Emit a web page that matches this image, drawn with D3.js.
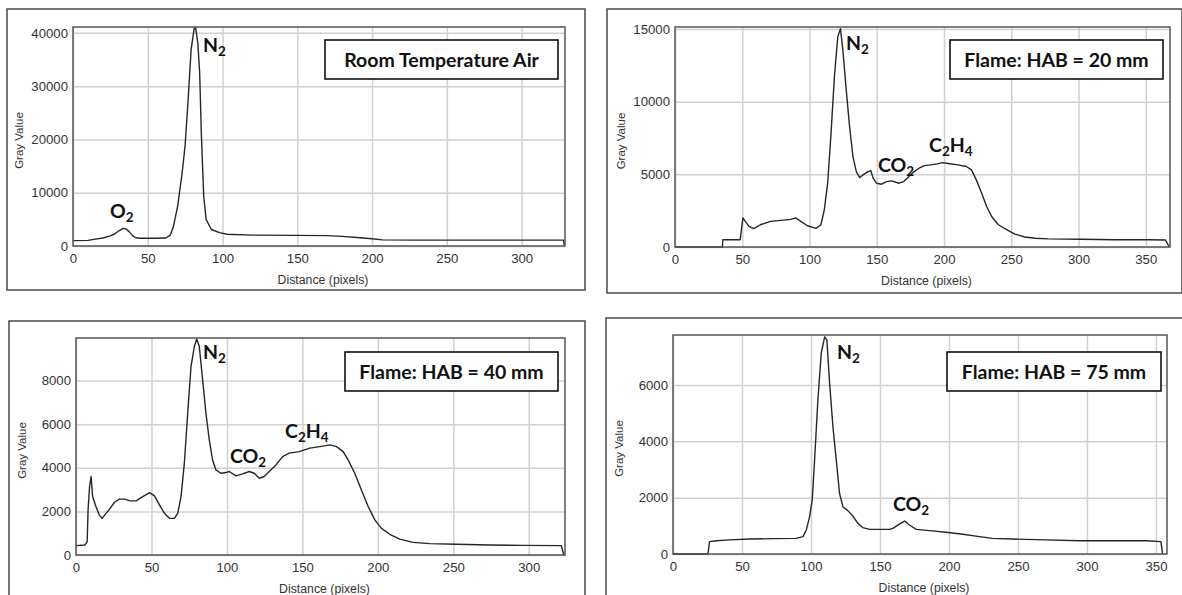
<!DOCTYPE html>
<html><head><meta charset="utf-8">
<script src="https://cdn.jsdelivr.net/npm/d3@7"></script>
<style>body{margin:0;background:#fff} svg{display:block}</style>
</head><body>
<svg id="c" width="1182" height="595"></svg>
<script>
// ---------- DATA ----------
const airDistance = [0, 10, 15, 20, 25, 28, 31, 33.5, 35.5, 37.5, 40, 42, 45, 55, 62, 65, 67, 70, 73, 75, 77, 79, 81, 82, 83.5, 84.7, 85.8, 87.4, 89, 92.5, 98, 103, 120, 150, 170, 180, 190, 200, 207, 230, 270, 300, 328, 328.6];
const airGray     = [1000, 1050, 1300, 1500, 1900, 2300, 2900, 3300, 3200, 2700, 1900, 1550, 1450, 1450, 1500, 2000, 3500, 7500, 13750, 19000, 27500, 36900, 40800, 41000, 38000, 32500, 21250, 9400, 5000, 3100, 2500, 2200, 2050, 2000, 1950, 1800, 1600, 1350, 1150, 1100, 1100, 1100, 1100, 0];

const hab20Distance = [0, 35.2, 35.6, 48.5, 49.5, 50.5, 52, 55, 58.5, 63.5, 71, 78.6, 86, 90, 93.5, 98.5, 104.7, 108.5, 111, 113.5, 116, 118.5, 121, 123, 124.8, 127.3, 129.8, 132.3, 134.8, 137.3, 139.8, 143.5, 145.5, 147.3, 149.8, 153.5, 157.2, 161, 166.5, 170, 174, 177.8, 181.5, 185.2, 190, 195, 199, 203, 210.4, 216.6, 220.4, 224, 228, 231.7, 235.4, 240.4, 246.5, 252.7, 260, 267.6, 277.5, 302, 327, 352, 364.6, 367.5];
const hab20Gray     = [0, 0, 500, 500, 1300, 2000, 1800, 1420, 1260, 1530, 1760, 1830, 1900, 2000, 1760, 1460, 1280, 1530, 2560, 4390, 7820, 11700, 14460, 15030, 13550, 10800, 8280, 6220, 5190, 4780, 4960, 5190, 5260, 4740, 4390, 4320, 4500, 4550, 4390, 4500, 4850, 5190, 5420, 5600, 5650, 5720, 5810, 5750, 5650, 5540, 5310, 4620, 3700, 2790, 2100, 1530, 1190, 890, 690, 600, 560, 530, 500, 500, 480, 0];

const hab40Distance = [0, 6, 7.4, 8, 9, 10, 11, 13.2, 15.4, 17.3, 19.9, 22.2, 25.5, 28.8, 32.1, 35.4, 39.8, 44.2, 48.7, 52, 55.3, 58.6, 61.9, 65.2, 67.4, 69.6, 71.8, 74, 76.2, 78.4, 80, 81.7, 83.9, 86.1, 88.3, 90.5, 92.7, 96, 99.3, 101.5, 106, 110.4, 114.8, 118.1, 121.4, 124.7, 128, 132.5, 136.9, 141.3, 148, 154.9, 161.5, 168.2, 172.6, 177, 180.3, 184.7, 189.1, 193.6, 198, 202.4, 207.9, 214.5, 223.4, 234.4, 252, 274, 296, 321.6, 323.2];
const hab40Gray     = [430, 460, 610, 2060, 3140, 3600, 2680, 2220, 1840, 1680, 1910, 2100, 2420, 2560, 2560, 2490, 2480, 2680, 2860, 2710, 2300, 1910, 1680, 1680, 1910, 2680, 4210, 6500, 8640, 9560, 9900, 9560, 8030, 6500, 5280, 4360, 3900, 3750, 3780, 3830, 3630, 3720, 3830, 3750, 3520, 3600, 3830, 4130, 4510, 4670, 4740, 4900, 4970, 5050, 4970, 4740, 4360, 3750, 2980, 2220, 1610, 1220, 950, 730, 580, 520, 490, 460, 440, 430, 0];

const hab75Distance = [0, 25.3, 26.5, 31.3, 41, 55.5, 72.4, 89.3, 94.2, 96.6, 99, 100.9, 102.6, 105, 107.4, 109.9, 111.5, 113.5, 115.9, 118.3, 120.7, 123.1, 126.7, 130.3, 134, 137.6, 142.4, 156.9, 159.3, 164.1, 167.8, 171.4, 176.2, 185.9, 198, 210, 222, 231.7, 246.2, 270.3, 294.5, 318.6, 342.8, 353.6, 354.8];
const hab75Gray     = [0, 0, 440, 470, 500, 530, 545, 555, 615, 850, 1325, 1920, 3340, 5470, 7120, 7710, 7600, 6060, 4520, 3340, 2150, 1680, 1540, 1350, 1090, 935, 875, 875, 910, 1060, 1170, 1030, 875, 830, 770, 700, 615, 555, 530, 500, 470, 470, 470, 440, 0];

const xTicksA = [0, 50, 100, 150, 200, 250, 300];
const xTicksB = [0, 50, 100, 150, 200, 250, 300, 350];
const yTicksAir = [0, 10000, 20000, 30000, 40000];
const yTicks20 = [0, 5000, 10000, 15000];
const yTicks40 = [0, 2000, 4000, 6000, 8000];
const yTicks75 = [0, 2000, 4000, 6000];

const titles = ["Room Temperature Air", "Flame: HAB = 20 mm", "Flame: HAB = 40 mm", "Flame: HAB = 75 mm"];
const xLabel = "Distance (pixels)";
const yLabel = "Gray Value";

// ---------- LAYOUT ----------
const panels = [
  { xs: airDistance, ys: airGray, xMax: 329, yMax: 41100, xTicks: xTicksA, yTicks: yTicksAir, title: titles[0],
    frame: [7, 9, 585, 290], plot: [73, 27, 565, 246], box: [325, 40, 558, 79],
    notes: [{t: "N", s: "2", x: 203, y: 52}, {t: "O", s: "2", x: 110, y: 218}] },
  { xs: hab20Distance, ys: hab20Gray, xMax: 368, yMax: 15140, xTicks: xTicksB, yTicks: yTicks20, title: titles[1],
    frame: [607, 9, 1182, 293], plot: [675, 27, 1170, 247], box: [950, 40, 1163, 79],
    notes: [{t: "N", s: "2", x: 846, y: 50}, {t: "CO", s: "2", x: 878, y: 172}, {t: "C", s: "2", t2: "H", s2: "4", x: 929, y: 152}] },
  { xs: hab40Distance, ys: hab40Gray, xMax: 324, yMax: 9950, xTicks: xTicksA, yTicks: yTicks40, title: titles[2],
    frame: [9, 321, 585, 610], plot: [76, 338, 565, 555], box: [345, 352, 558, 391],
    notes: [{t: "N", s: "2", x: 203, y: 359}, {t: "CO", s: "2", x: 230, y: 463}, {t: "C", s: "2", t2: "H", s2: "4", x: 285, y: 438}] },
  { xs: hab75Distance, ys: hab75Gray, xMax: 358, yMax: 7776, xTicks: xTicksB, yTicks: yTicks75, title: titles[3],
    frame: [606, 318, 1190, 610], plot: [673, 335, 1167, 554], box: [947, 352, 1161, 391],
    notes: [{t: "N", s: "2", x: 837, y: 359}, {t: "CO", s: "2", x: 893, y: 511}] }
];

const svg = d3.select("#c");
const tickFont = "Liberation Sans, Arial, sans-serif";
const boldFont = "Lato, 'Open Sans', sans-serif";

panels.forEach(p => {
  const [fx0, fy0, fx1, fy1] = p.frame;
  const [px0, py0, px1, py1] = p.plot;
  const g = svg.append("g");

  g.append("rect").attr("x", fx0).attr("y", fy0).attr("width", fx1 - fx0).attr("height", fy1 - fy0)
    .attr("fill", "#fff").attr("stroke", "#4a4a4a").attr("stroke-width", 1.5);

  const x = d3.scaleLinear().domain([0, p.xMax]).range([px0, px1]);
  const y = d3.scaleLinear().domain([0, p.yMax]).range([py1, py0]);

  // grid
  g.append("g").attr("transform", `translate(0,${py1})`)
    .call(d3.axisBottom(x).tickValues(p.xTicks).tickSize(-(py1 - py0)).tickFormat(""))
    .call(a => a.select(".domain").remove())
    .call(a => a.selectAll("line").attr("stroke", "#d0d0d0").attr("stroke-width", 1.5));
  g.append("g").attr("transform", `translate(${px0},0)`)
    .call(d3.axisLeft(y).tickValues(p.yTicks).tickSize(-(px1 - px0)).tickFormat(""))
    .call(a => a.select(".domain").remove())
    .call(a => a.selectAll("line").attr("stroke", "#d0d0d0").attr("stroke-width", 1.5));

  // tick labels
  g.append("g").attr("transform", `translate(0,${py1})`)
    .call(d3.axisBottom(x).tickValues(p.xTicks).tickSize(0).tickPadding(8).tickFormat(d3.format("d")))
    .call(a => a.select(".domain").remove())
    .call(a => a.selectAll("text").attr("font-family", tickFont).attr("font-size", 13.2).attr("fill", "#333"));
  g.append("g").attr("transform", `translate(${px0},0)`)
    .call(d3.axisLeft(y).tickValues(p.yTicks).tickSize(0).tickPadding(5).tickFormat(d3.format("d")))
    .call(a => a.select(".domain").remove())
    .call(a => a.selectAll("text").attr("font-family", tickFont).attr("font-size", 13.2).attr("fill", "#333"));

  // axis titles
  g.append("text").attr("x", (px0 + px1) / 2 + 4).attr("y", py1 + 38).attr("text-anchor", "middle")
    .attr("font-family", tickFont).attr("font-size", 12.3).attr("fill", "#333").text(xLabel);
  g.append("text").attr("transform", `translate(${px0 - 50},${(py0 + py1) / 2 + 4}) rotate(-90)`)
    .attr("text-anchor", "middle").attr("font-family", tickFont).attr("font-size", 11.5).attr("fill", "#333").text(yLabel);

  // curve
  const pts = p.xs.map((d, i) => [d, p.ys[i]]);
  g.append("path").datum(pts)
    .attr("d", d3.line().x(d => x(d[0])).y(d => y(d[1])))
    .attr("fill", "none").attr("stroke", "#262626").attr("stroke-width", 1.4).attr("stroke-linejoin", "round");

  // plot border
  g.append("rect").attr("x", px0).attr("y", py0).attr("width", px1 - px0).attr("height", py1 - py0)
    .attr("fill", "none").attr("stroke", "#555").attr("stroke-width", 1.5);

  // title box
  const [bx0, by0, bx1, by1] = p.box;
  g.append("rect").attr("x", bx0).attr("y", by0).attr("width", bx1 - bx0).attr("height", by1 - by0)
    .attr("fill", "#fff").attr("stroke", "#111").attr("stroke-width", 1.6);
  g.append("text").attr("x", (bx0 + bx1) / 2).attr("y", (by0 + by1) / 2 + 7).attr("text-anchor", "middle")
    .attr("font-family", boldFont).attr("font-weight", "bold").attr("font-size", 19.5).attr("fill", "#111").text(p.title);

  // peak annotations
  p.notes.forEach(n => {
    const t = g.append("text").attr("x", n.x).attr("y", n.y)
      .attr("font-family", boldFont).attr("font-weight", "bold").attr("font-size", 19.5).attr("fill", "#111");
    t.append("tspan").text(n.t);
    t.append("tspan").attr("font-size", 13.5).attr("dy", 4).text(n.s);
    if (n.t2) {
      t.append("tspan").attr("font-size", 19.5).attr("dy", -4).text(n.t2);
      t.append("tspan").attr("font-size", 13.5).attr("dy", 4).text(n.s2);
    }
  });
});
</script>
</body></html>
